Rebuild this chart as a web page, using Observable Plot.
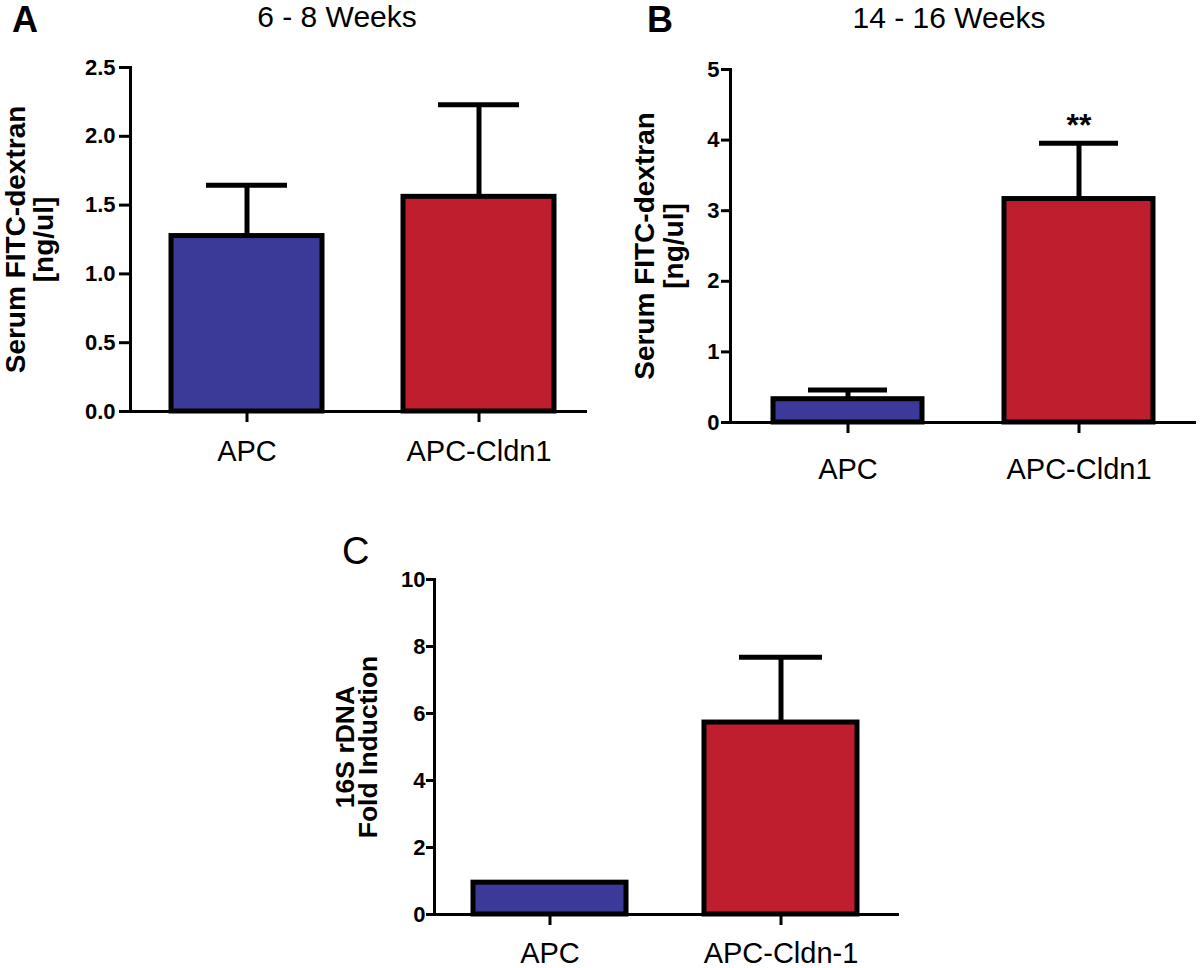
<!DOCTYPE html>
<html>
<head>
<meta charset="utf-8">
<script src="https://cdn.jsdelivr.net/npm/d3@7"></script>
<script src="https://cdn.jsdelivr.net/npm/@observablehq/plot@0.6"></script>
<style>
  html, body { margin: 0; padding: 0; background: #fff; }
  #root { position: relative; width: 1200px; height: 968px; overflow: hidden; font-family: "Liberation Sans", Arial, Helvetica, sans-serif; color: #000; }
  .panel { position: absolute; }
  .lbl { position: absolute; white-space: nowrap; color: #000; }
</style>
</head>
<body>
<div id="root"></div>
<script>
// ---------- data ----------
const categoriesAB = ["APC", "APC-Cldn1"];
const categoriesC = ["APC", "APC-Cldn-1"];
const barColors = ["#3b3a98", "#be1e2d"];

// Panel A: 6 - 8 Weeks
const meanA = [1.275, 1.56];
const errA = [0.37, 0.67];
const ticksA = [0, 0.5, 1.0, 1.5, 2.0, 2.5];

// Panel B: 14 - 16 Weeks
const meanB = [0.33, 3.165];
const errB = [0.13, 0.79];
const sigB = ["", "**"];
const ticksB = [0, 1, 2, 3, 4, 5];

// Panel C: 16S rDNA
const meanC = [0.95, 5.73];
const errC = [0, 1.95];
const ticksC = [0, 2, 4, 6, 8, 10];

const titles = {A: "6 - 8 Weeks", B: "14 - 16 Weeks"};
const yLabelAB = "Serum FITC-dextran\n[ng/ul]";
const yLabelC = "16S rDNA\nFold Induction";

const FONT = '"Liberation Sans", Arial, Helvetica, sans-serif';

function rows(cats, means, errs, sigs) {
  return cats.map((c, i) => ({cat: c, mean: means[i], err: errs[i], sig: sigs ? sigs[i] : "", color: barColors[i]}));
}

function panel(cfg) {
  const data = rows(cfg.cats, cfg.means, cfg.errs, cfg.sigs);
  const marks = [
    Plot.barY(data, {x: "cat", y: "mean", fill: "color", stroke: "#000", strokeWidth: 5, strokeLinejoin: "miter"}),
    Plot.ruleX(data.filter(d => d.err > 0), {x: "cat", y1: "mean", y2: d => d.mean + d.err, stroke: "#000", strokeWidth: 5}),
    Plot.tickY(data.filter(d => d.err > 0), {x: "cat", y: d => d.mean + d.err, stroke: "#000", strokeWidth: 5, insetLeft: 35, insetRight: 35}),
    Plot.ruleY([0], {stroke: "#000", strokeWidth: 3}),
    Plot.frame({anchor: "left", stroke: "#000", strokeWidth: 3}),
    Plot.axisY({ticks: cfg.ticks, tickFormat: cfg.fmt, tickSize: cfg.ytickSize, tickPadding: cfg.ytickPad, fontSize: cfg.yFont, fontWeight: "bold", strokeWidth: 3, label: null}),
    Plot.axisX({tickSize: 11, tickPadding: cfg.xtickPad, fontSize: 29, strokeWidth: 3, label: null}),
    Plot.text([cfg.ylabel], {frameAnchor: "left", text: d => d, rotate: -90, dx: cfg.ylabelDx, fontSize: cfg.ylabelSize, fontWeight: "bold", lineHeight: cfg.ylabelLH, textAnchor: "middle", lineAnchor: "middle"})
  ];
  if (cfg.sigs) {
    marks.push(Plot.text(data.filter(d => d.sig), {x: "cat", y: d => d.mean + d.err, text: "sig", dy: -18, fontSize: 32, fontWeight: "bold"}));
  }
  const chart = Plot.plot({
    width: cfg.width,
    height: cfg.height,
    marginLeft: cfg.ml, marginRight: cfg.mr, marginTop: cfg.mt, marginBottom: cfg.mb,
    style: {fontFamily: FONT, color: "#000", background: "transparent", overflow: "visible"},
    x: {domain: cfg.cats, paddingInner: cfg.pI, paddingOuter: cfg.pO, align: cfg.align, axis: null},
    y: {domain: [0, cfg.ticks[cfg.ticks.length - 1]], axis: null},
    color: {type: "identity"},
    marks
  });
  chart.classList.add("panel");
  chart.style.left = cfg.left + "px";
  chart.style.top = cfg.top + "px";
  return chart;
}

const root = document.getElementById("root");

root.appendChild(panel({
  cats: categoriesAB, means: meanA, errs: errA, ticks: ticksA, fmt: d3.format(".1f"),
  left: 0, top: 0, width: 600, height: 500, ml: 130, mr: 13, mt: 67, mb: 89,
  pI: 0.348, pO: 0.155, align: 0.56,
  ytickSize: 11, ytickPad: 4, yFont: 22, xtickPad: 18,
  ylabel: yLabelAB, ylabelDx: -100, ylabelSize: 28, ylabelLH: 1.0
}));

root.appendChild(panel({
  cats: categoriesAB, means: meanB, errs: errB, sigs: sigB, ticks: ticksB, fmt: d3.format("d"),
  left: 600, top: 0, width: 600, height: 500, ml: 130, mr: 4, mt: 69, mb: 78,
  pI: 0.353, pO: 0.181, align: 0.506,
  ytickSize: 9, ytickPad: 2, yFont: 22, xtickPad: 25,
  ylabel: yLabelAB, ylabelDx: -71.5, ylabelSize: 28, ylabelLH: 1.04
}));

root.appendChild(panel({
  cats: categoriesC, means: meanC, errs: errC, ticks: ticksC, fmt: d3.format("d"),
  left: 300, top: 530, width: 600, height: 438, ml: 134, mr: 1, mt: 49, mb: 54,
  pI: 0.339, pO: 0.174, align: 0.478,
  ytickSize: 8, ytickPad: 1, yFont: 22, xtickPad: 17,
  ylabel: yLabelC, ylabelDx: -76, ylabelSize: 26.5, ylabelLH: 0.87
}));

// ---------- panel letters and titles ----------
function placeText(text, x, baseline, size, weight, center) {
  const d = document.createElement("div");
  d.className = "lbl";
  d.textContent = text;
  d.style.fontSize = size + "px";
  d.style.lineHeight = size + "px";
  d.style.fontWeight = weight;
  d.style.left = x + "px";
  d.style.top = (baseline - 0.8465 * size) + "px";
  if (center) d.style.transform = "translateX(-50%)";
  root.appendChild(d);
}
placeText("A", 12, 32, 36, "bold", false);
placeText("B", 647, 32, 36, "bold", false);
placeText("C", 342, 564, 38, "normal", false);
placeText(titles.A, 337, 27, 30, "normal", true);
placeText(titles.B, 949, 28, 30, "normal", true);
</script>
</body>
</html>
